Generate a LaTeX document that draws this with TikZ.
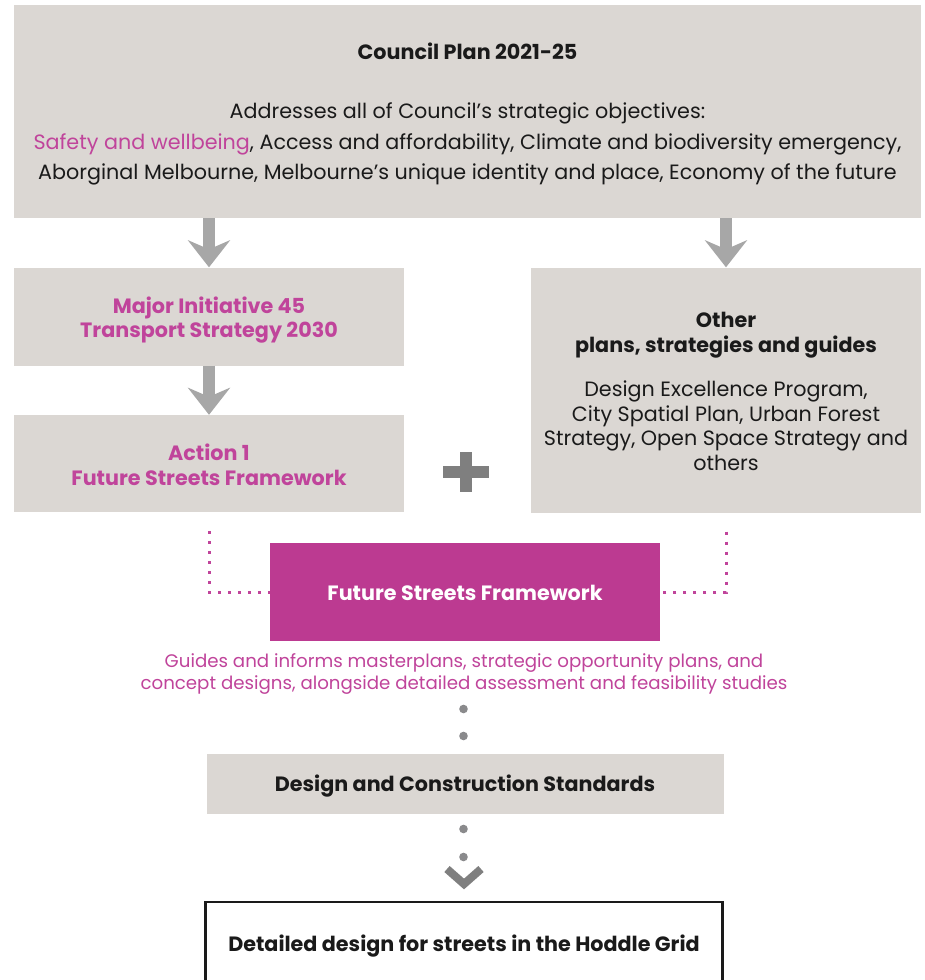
\documentclass[tikz,border=0pt]{standalone}
\usepackage{fontspec}
\setmainfont{Poppins}
\usetikzlibrary{arrows.meta}
\definecolor{boxgray}{HTML}{DBD7D3}
\definecolor{magbox}{HTML}{BC3A91}
\definecolor{magtext}{HTML}{C0449B}
\definecolor{arrowgray}{HTML}{A7A7A7}
\definecolor{plusgray}{HTML}{7F7F7F}
\definecolor{dotgray}{HTML}{8A8A8C}
\definecolor{inkblack}{HTML}{1A1A1A}
\newcommand{\topstrut}[1]{\rule{0pt}{#1}}
\begin{document}
\begin{tikzpicture}[x=1pt,y=-1pt,
  graybox/.style={fill=boxgray, draw=none, inner sep=0pt, align=center, text=inkblack},
  bigarrow/.style={draw=arrowgray, line width=12pt, -{Stealth[length=27pt, width=42pt, inset=9pt]}},
  magdots/.style={draw=magtext, line width=3pt, dash pattern=on 3pt off 7pt},
  graydot/.style={fill=dotgray},
  bodyfont/.style={font=\fontsize{20.7}{30.5}\selectfont},
  headfont/.style={font=\fontsize{20.7}{24.5}\selectfont\bfseries}
]
\useasboundingbox (0,0) rectangle (924,980);
\fill[white] (0,0) rectangle (924,980);

% top box
\node[graybox, minimum width=907pt, minimum height=213pt, bodyfont] (top) at (467.5,111.5)
  {\topstrut{21.5pt}{\bfseries Council Plan 2021-25}\\[29pt]
   Addresses all of Council’s strategic objectives:\\
   \textcolor{magtext}{Safety and wellbeing}, Access and affordability, Climate and biodiversity emergency,\\
   Aborginal Melbourne, Melbourne’s unique identity and place, Economy of the future};

% major initiative
\node[graybox, minimum width=390pt, minimum height=98pt, headfont, text=magtext] (major) at (209,316.5)
  {\topstrut{23.5pt}Major Initiative 45\\Transport Strategy 2030};

% action 1
\node[graybox, minimum width=390pt, minimum height=97pt, headfont, text=magtext] (action) at (209,463.5)
  {\topstrut{19pt}Action 1\\Future Streets Framework};

% other plans
\node[graybox, minimum width=390pt, minimum height=245pt, font=\fontsize{20.7}{24.5}\selectfont] (other) at (726,390)
  {\topstrut{18pt}{\bfseries Other}\\{\bfseries plans, strategies and guides}\\[20pt]
   Design Excellence Program,\\City Spatial Plan, Urban Forest\\Strategy, Open Space Strategy and\\others};

% future streets framework
\node[fill=magbox, minimum width=390pt, minimum height=98pt, inner sep=0pt, text=white, headfont] (fsf) at (465,592)
  {\topstrut{17pt}Future Streets Framework};

\node[text=magtext, align=center, inner sep=0pt, font=\fontsize{18.2}{22}\selectfont] (guides) at (464,674)
  {Guides and informs masterplans, strategic opportunity plans, and\\
   concept designs, alongside detailed assessment and feasibility studies};

% design standards
\node[graybox, minimum width=517pt, minimum height=60pt, headfont] (design) at (465,784)
  {\topstrut{21.5pt}Design and Construction Standards};

% detailed design
\node[draw=inkblack, line width=2.2pt, fill=white, minimum width=517pt, minimum height=84pt, inner sep=0pt, headfont, text=inkblack] (detail) at (464,944)
  {\topstrut{20pt}Detailed design for streets in the Hoddle Grid};

% big arrows
\draw[bigarrow] (top.south -| major.north) -- (major.north);
\draw[bigarrow] (top.south -| other.north) -- (other.north);
\draw[bigarrow] (major.south) -- (action.north);

% plus sign
\draw[plusgray, line width=12pt] (443,472) -- (489,472) (466,452) -- (466,492);

% magenta dotted connectors
\coordinate (lstart) at ([yshift=-19pt]action.south);
\coordinate (rstart) at ([yshift=-19pt]other.south);
\draw[magdots] (lstart) |- (fsf.west);
\draw[magdots] (rstart) |- (fsf.east);

% gray dotted connectors
\fill[graydot] (463.5,709) circle (4.3pt);
\fill[graydot] (463.5,736) circle (4.3pt);
\fill[graydot] (463.5,829) circle (4.3pt);
\fill[graydot] (463.5,857) circle (4.3pt);
\coordinate (chevl) at (447,869);
\coordinate (chevr) at (481,869);
\draw[draw=plusgray, line width=8pt, miter limit=10] (chevl) -- (464,884) -- (chevr);
\end{tikzpicture}
\end{document}
